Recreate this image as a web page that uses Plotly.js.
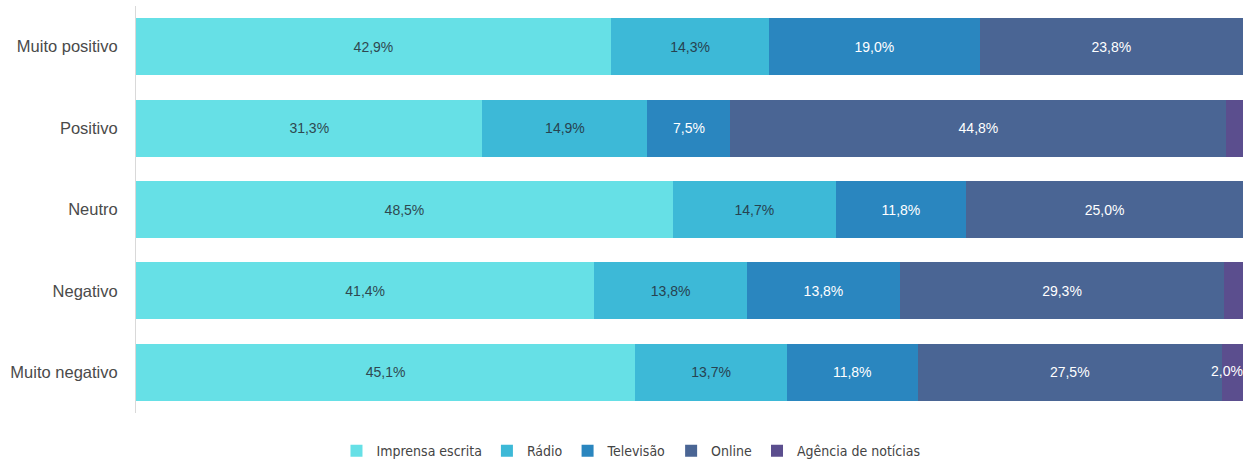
<!DOCTYPE html>
<html>
<head>
<meta charset="utf-8">
<script src="https://cdn.plot.ly/plotly-3.0.1.min.js"></script>
<style>
html,body{margin:0;padding:0;background:#fff;}
#chart{width:1247px;height:459px;}
</style>
</head>
<body>
<div id="chart"></div>
<script>
const categories = ["Muito positivo", "Positivo", "Neutro", "Negativo", "Muito negativo"];
const seriesNames = ["Imprensa escrita", "Rádio", "Televisão", "Online", "Agência de notícias"];
const imprensa = [42.9, 31.3, 48.5, 41.4, 45.1];
const radio = [14.3, 14.9, 14.7, 13.8, 13.7];
const televisao = [19.0, 7.5, 11.8, 13.8, 11.8];
const online = [23.8, 44.8, 25.0, 29.3, 27.5];
const agencia = [0, 1.5, 0, 1.7, 2.0];
const colors = ["#66E0E6", "#3DB9D7", "#2A86BF", "#4A6594", "#5B4E8E"];
const textColors = ["#2f4850", "#274250", "#ffffff", "#ffffff", "#ffffff"];

const fmt = v => v.toFixed(1).replace(".", ",") + "%";
const allSeries = [imprensa, radio, televisao, online, agencia];
const labelFont = "Liberation Sans, Arial, sans-serif";
const xMax = 100;

const traces = allSeries.map((vals, i) => ({
  type: "bar",
  orientation: "h",
  name: seriesNames[i],
  y: categories,
  x: vals,
  marker: {color: colors[i]},
  text: vals.map(v => (i < 4 && v > 0) ? fmt(v) : ""),
  textposition: i < 4 ? "inside" : "none",
  insidetextanchor: "middle",
  textangle: 0,
  insidetextfont: {family: labelFont, size: 14, color: textColors[i]},
  hoverinfo: "name+x"
}));

// label for the last series, overflowing the narrow segment (kept inside the picture)
const cum = categories.map((c, k) => imprensa[k] + radio[k] + televisao[k] + online[k]);
traces.push({
  type: "scatter",
  mode: "text",
  y: categories,
  x: cum.map((c, k) => Math.min(xMax, c + agencia[k])),
  text: agencia.map(v => v >= 2 ? fmt(v) : ""),
  textposition: "middle left",
  textfont: {family: labelFont, size: 14, color: "#ffffff"},
  showlegend: false,
  hoverinfo: "skip",
  cliponaxis: false
});

const layout = {
  width: 1247,
  height: 459,
  barmode: "stack",
  bargap: 0.30,
  paper_bgcolor: "#ffffff",
  plot_bgcolor: "#ffffff",
  margin: {l: 136, r: 4, t: 6, b: 46, pad: 0},
  font: {family: labelFont, color: "#444444"},
  xaxis: {range: [0, xMax], showgrid: false, zeroline: false, showticklabels: false, ticks: "", fixedrange: true},
  yaxis: {
    autorange: "reversed",
    showline: true, linecolor: "#d9d9d9", linewidth: 1,
    ticks: "", ticklabelstandoff: 14,
    tickfont: {family: labelFont, size: 16.5, color: "#4a4a4a"},
    showgrid: false, zeroline: false
  },
  showlegend: true,
  legend: {
    orientation: "h",
    xref: "container", yref: "container",
    x: 0.506, xanchor: "center",
    y: 0.017, yanchor: "middle",
    font: {family: "DejaVu Sans Condensed, Roboto, sans-serif", size: 14, color: "#444444"},
    itemwidth: 30,
    traceorder: "normal",
    itemclick: false
  }
};

Plotly.newPlot("chart", traces, layout, {displayModeBar: false, staticPlot: true});
</script>
</body>
</html>
